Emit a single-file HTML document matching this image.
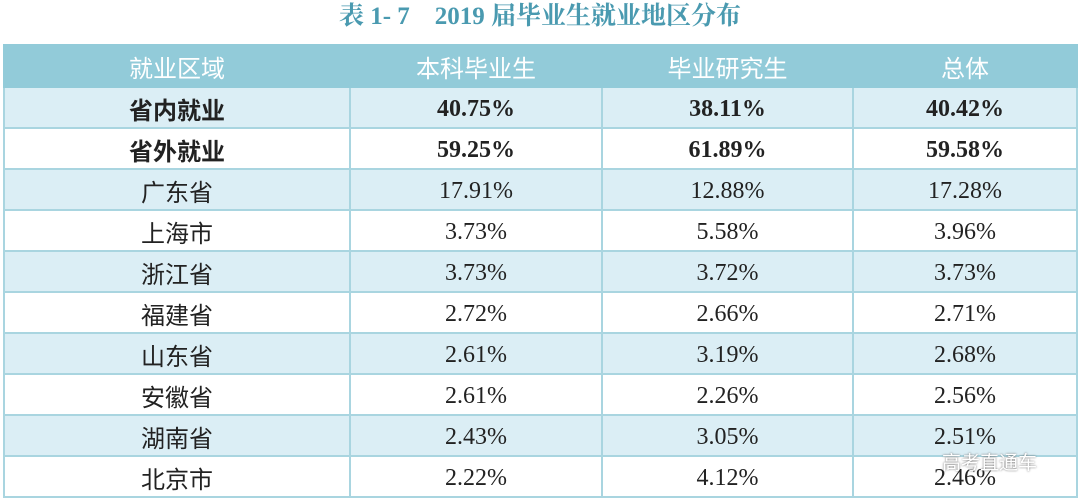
<!DOCTYPE html>
<html><head><meta charset="utf-8"><style>
body{margin:0;width:1080px;height:502px;background:#fff;overflow:hidden;position:relative;font-family:"Liberation Serif","Noto Serif CJK SC",serif}
.title{position:absolute;top:2px;left:0;width:1080px;text-align:center;color:#4a9ab0;font-weight:bold;font-size:25px;line-height:30px}
table{position:absolute;left:3px;top:44px;width:1073px;border-collapse:collapse;table-layout:fixed}
td{border:2px solid #a9d5e0;height:37px;text-align:center;font-size:24px;color:#222;padding:2px 0 0 0;line-height:30px}
tr.h td{background:#92cbd9;color:#fff;height:38px;font-family:"Noto Sans CJK SC",sans-serif;font-size:24px;border-color:#92cbd9}
tr.l td{background:#dbeef5}
td.c{font-family:"Noto Sans CJK SC",sans-serif}
tr.b td{font-weight:bold}
.wm{position:absolute;left:942px;top:448px;color:#fff;font-family:"Noto Sans CJK SC",sans-serif;font-size:19px;text-shadow:0 0 2px #666}
</style></head><body>
<div class="title">表 1- 7&nbsp;&nbsp;&nbsp; 2019 届毕业生就业地区分布</div>
<table>
<colgroup><col style="width:346px"><col style="width:252px"><col style="width:251px"><col style="width:224px"></colgroup>
<tr class="h"><td>就业区域</td><td>本科毕业生</td><td>毕业研究生</td><td>总体</td></tr>
<tr class="l b"><td class="c">省内就业</td><td>40.75%</td><td>38.11%</td><td>40.42%</td></tr>
<tr class="b"><td class="c">省外就业</td><td>59.25%</td><td>61.89%</td><td>59.58%</td></tr>
<tr class="l"><td class="c">广东省</td><td>17.91%</td><td>12.88%</td><td>17.28%</td></tr>
<tr><td class="c">上海市</td><td>3.73%</td><td>5.58%</td><td>3.96%</td></tr>
<tr class="l"><td class="c">浙江省</td><td>3.73%</td><td>3.72%</td><td>3.73%</td></tr>
<tr><td class="c">福建省</td><td>2.72%</td><td>2.66%</td><td>2.71%</td></tr>
<tr class="l"><td class="c">山东省</td><td>2.61%</td><td>3.19%</td><td>2.68%</td></tr>
<tr><td class="c">安徽省</td><td>2.61%</td><td>2.26%</td><td>2.56%</td></tr>
<tr class="l"><td class="c">湖南省</td><td>2.43%</td><td>3.05%</td><td>2.51%</td></tr>
<tr><td class="c">北京市</td><td>2.22%</td><td>4.12%</td><td>2.46%</td></tr>
</table>
<div class="wm">高考直通车</div>
</body></html>
